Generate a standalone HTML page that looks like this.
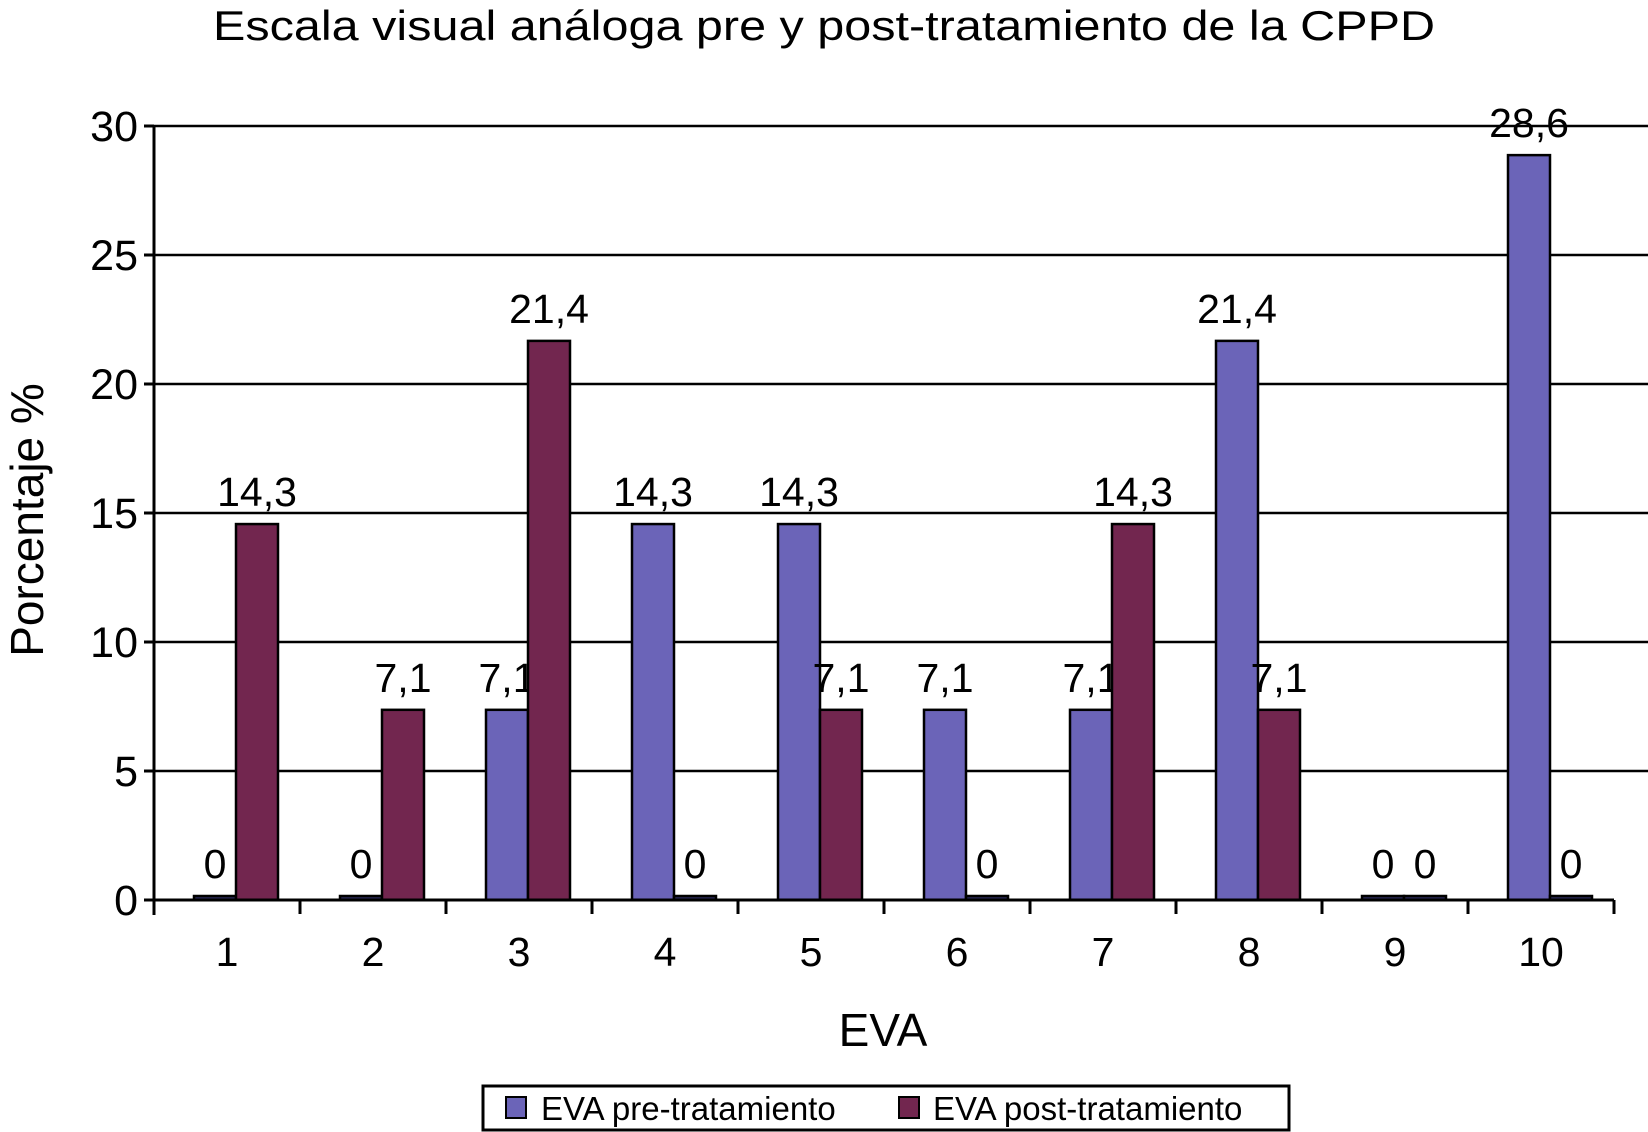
<!DOCTYPE html>
<html><head><meta charset="utf-8"><style>
html,body{margin:0;padding:0;background:#fff;}
svg{display:block;font-family:"Liberation Sans",Arial,sans-serif;}
</style></head><body>
<svg id="chart" width="1648" height="1132" viewBox="0 0 1648 1132" xmlns="http://www.w3.org/2000/svg">
<text x="824" y="40" font-size="42" text-anchor="middle" textLength="1222" lengthAdjust="spacingAndGlyphs">Escala visual análoga pre y post-tratamiento de la CPPD</text>
<g id="grid"></g>
<g id="bars"></g>
<g id="axes"></g>
<text x="883" y="1046" font-size="46" text-anchor="middle">EVA</text>
<text transform="translate(43,520) rotate(-90)" font-size="46" text-anchor="middle">Porcentaje %</text>
<g>
<rect x="483" y="1086" width="806" height="44" fill="#fff" stroke="#000" stroke-width="3"/>
<g>
<rect x="506" y="1097" width="20" height="21" fill="#6b64b8" stroke="#000" stroke-width="2"/>
<text x="541" y="1120" font-size="33">EVA pre-tratamiento</text></g>
<g>
<rect x="899" y="1097" width="20" height="21" fill="#72264f" stroke="#000" stroke-width="2"/>
<text x="933" y="1120" font-size="33">EVA post-tratamiento</text></g>
</g>
</svg>
<script>
const categories = ["1","2","3","4","5","6","7","8","9","10"];
const preValues = [0,0,7.1,14.3,14.3,7.1,7.1,21.4,0,28.6];
const postValues = [14.3,7.1,21.4,0,7.1,0,14.3,7.1,0,0];
const yTicks = [0,5,10,15,20,25,30];
const NS = "http://www.w3.org/2000/svg";
const X0 = 154, CW = 146, Y0 = 900, YTOP = 126, YMAX = 30, BW = 42, GOFF = 9, EXTRA = 7;
function xScale(i){ return X0 + CW * i + CW / 2; }
function yScale(v){ return Y0 - (Y0 - YTOP) * v / YMAX; }
function mk(tag, attrs, parent){ const e=document.createElementNS(NS,tag); for(const k in attrs) e.setAttribute(k,attrs[k]); parent.appendChild(e); return e; }
const grid=document.getElementById('grid'), bars=document.getElementById('bars'), axes=document.getElementById('axes');
yTicks.forEach(t=>{
  const y=yScale(t);
  if(t>0){ const l=mk('line',{x1:X0,x2:1648,y1:y,y2:y,stroke:'#000','stroke-width':2.5},grid);
    
     }
  const tk=mk('line',{x1:X0-10,x2:X0,y1:y,y2:y,stroke:'#000','stroke-width':3},axes);
  
  
  const tx=mk('text',{x:X0-16,y:y+15,'font-size':43,'text-anchor':'end'},axes);
  tx.textContent=t;
  
  
});
function drawBar(i,v,off,color,name){
  const cx=xScale(i)+GOFF+off;
  const h=v>0?(Y0-yScale(v))+EXTRA:4;
  const r=mk('rect',{x:cx-BW/2,y:Y0-h,width:BW,height:h,fill:v>0?color:'#2a2a5a',stroke:'#000','stroke-width':2.5},bars);
  
  
  const t=mk('text',{x:cx,y:Y0-h-18,'font-size':41,'text-anchor':'middle'},bars);
  t.textContent=String(v).replace('.',',');
  
  
}
categories.forEach((c,i)=>{
  drawBar(i,preValues[i],-BW/2,'#6b64b8','pre');
  drawBar(i,postValues[i],BW/2,'#72264f','post');
  const tk=mk('line',{x1:X0+CW*(i+1),x2:X0+CW*(i+1),y1:Y0,y2:Y0+14,stroke:'#000','stroke-width':3},axes);
  
  
  const tx=mk('text',{x:xScale(i),y:Y0+66,'font-size':41,'text-anchor':'middle'},axes);
  tx.textContent=c;
  
  
});
const ya=mk('line',{x1:X0,x2:X0,y1:YTOP,y2:Y0+15,stroke:'#000','stroke-width':3},axes);


const xa=mk('line',{x1:X0-10,x2:X0+CW*10,y1:Y0,y2:Y0,stroke:'#000','stroke-width':3},axes);


</script>
</body></html>
